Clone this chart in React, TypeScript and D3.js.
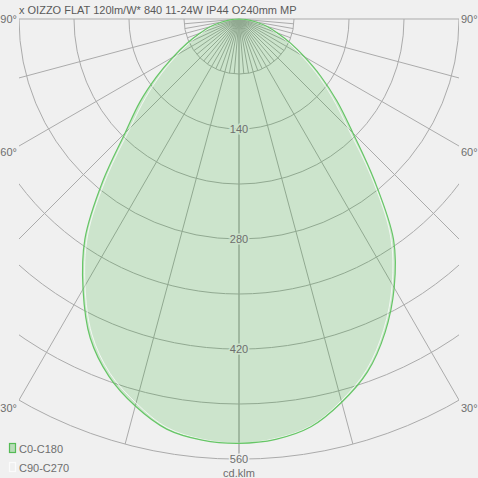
import React from "react";
import * as d3 from "d3";

const TITLE = "x OIZZO FLAT 120lm/W* 840 11-24W IP44 O240mm MP";
const UNIT = "cd.klm";
const LEGEND = ["C0-C180", "C90-C270"];

// gamma angles (deg from nadir)
const ANGLES = [0, 5, 10, 15, 20, 25, 30, 35, 40, 45, 50, 55, 60, 65, 70, 75, 80, 85, 90];
// intensities (cd/klm)
const C0 = [540, 537, 527, 505, 478, 440, 395, 343, 268, 205, 163, 127, 96, 72, 52, 37, 22, 10, 0];
const C180 = [540, 538, 530, 510, 484, 448, 397, 342, 270, 205, 165, 128, 97, 73, 53, 38, 22, 10, 0];
const C90 = [540, 536, 526, 503, 475, 436, 390, 336, 262, 196, 155, 120, 90, 67, 48, 34, 20, 9, 0];
const C270 = [540, 537, 528, 506, 480, 443, 392, 336, 262, 196, 155, 120, 90, 67, 48, 34, 20, 9, 0];

const RING_VALUES = [70, 140, 210, 280, 350, 420, 490, 560];
const RING_LABELS = [140, 280, 420, 560];
const MAJOR_SPOKES = [0, 15, 30, 45, 60, 75, 90];
const MINOR_SPOKES = [5, 10, 20, 25, 35, 40, 50, 55, 65, 70, 80, 85];
const SIDE_LABELS = [90, 60, 30];

const W = 478;
const H = 478;
const CX = 239;
const CY = 19;
const HALF = 220;
const BG = "#f0f0f0";
const GRID = "#ababab";
const TXT = "#6e6e6e";
const FONT = "Liberation Sans, Arial, sans-serif";

export default function App() {
  const r = d3.scaleLinear().domain([0, 560]).range([0, 440]);
  const rad = (d: number) => (d * Math.PI) / 180;

  const buildPts = (right: number[], left: number[]) => {
    const pts: [number, number][] = [];
    for (let i = ANGLES.length - 1; i >= 0; i--) pts.push([Math.PI - rad(ANGLES[i]), r(right[i])]);
    for (let i = 1; i < ANGLES.length; i++) pts.push([Math.PI + rad(ANGLES[i]), r(left[i])]);
    return pts;
  };
  const radial = d3
    .lineRadial<[number, number]>()
    .angle((d) => d[0])
    .radius((d) => d[1])
    .curve(d3.curveCatmullRom.alpha(0.5));

  const mainPath = radial(buildPts(C0, C180)) + "Z";
  const secPath = radial(buildPts(C90, C270)) + "Z";

  const arc = (rr: number) => {
    const a = d3.path();
    a.arc(0, 0, rr, 0, Math.PI, false);
    return a.toString();
  };

  const spoke = (g: number, len: number, side: number) => {
    const x = side * len * Math.sin(rad(g));
    const y = len * Math.cos(rad(g));
    return { x, y };
  };

  const sideLabelDy: Record<number, number> = { 90: 4, 60: 10, 30: 12 };
  const maxR = r(RING_VALUES[RING_VALUES.length - 1]);

  return (
    <svg
      width={W}
      height={H}
      style={{ position: "fixed", left: 0, top: 0, background: BG }}
      fontFamily={FONT}
    >
      <defs>
        <clipPath id="gridclip">
          <rect x={CX - HALF} y={CY - 1} width={HALF * 2} height={H} />
        </clipPath>
      </defs>
      <rect x={0} y={0} width={W} height={H} fill={BG} />
      <text x={19} y={14} fontSize={11} fill="#5a5a5a">
        {TITLE}
      </text>

      <g clipPath="url(#gridclip)">
        <g transform={`translate(${CX},${CY})`} stroke={GRID} strokeWidth={1} fill="none">
          {RING_VALUES.map((v) => (
            <path key={v} d={arc(r(v))} />
          ))}
          {MAJOR_SPOKES.flatMap((g) =>
            [-1, 1].map((s) => {
              const p = spoke(g, maxR, s);
              return <line key={`${g}${s}`} x1={0} y1={0} x2={p.x} y2={p.y} />;
            })
          )}
          {MINOR_SPOKES.flatMap((g) =>
            [-1, 1].map((s) => {
              const p = spoke(g, r(70), s);
              return <line key={`m${g}${s}`} x1={0} y1={0} x2={p.x} y2={p.y} />;
            })
          )}
        </g>
      </g>

      <g transform={`translate(${CX},${CY})`}>
        <path d={mainPath} fill="rgba(0,160,0,0.15)" stroke="none" />
        <path d={secPath} fill="none" stroke="#ffffff" strokeOpacity={0.75} strokeWidth={1} />
        <path d={mainPath} fill="none" stroke="#66c666" strokeWidth={1.2} />
        {RING_LABELS.map((v) => (
          <text
            key={v}
            x={0}
            y={r(v)}
            dy="0.35em"
            textAnchor="middle"
            fontSize={11}
            fill={TXT}
            stroke={v === 560 ? BG : "#cce4cc"}
            strokeWidth={3}
            paintOrder="stroke"
          >
            {v}
          </text>
        ))}
      </g>

      {SIDE_LABELS.map((g) => {
        const endY = g === 90 ? CY : CY + HALF / Math.tan(rad(g));
        const y = endY + sideLabelDy[g];
        return (
          <g key={g}>
            <text x={CX - HALF - 2} y={y} textAnchor="end" fontSize={11} fill={TXT}>
              {g}°
            </text>
            <text x={CX + HALF + 2} y={y} textAnchor="start" fontSize={11} fill={TXT}>
              {g}°
            </text>
          </g>
        );
      })}

      <text x={CX} y={477} textAnchor="middle" fontSize={11} fill={TXT}>
        {UNIT}
      </text>

      <rect x={9.5} y={443.5} width={6} height={9} fill="#b9dcb9" stroke="#55bb55" strokeWidth={1.2} />
      <text x={19} y={453} fontSize={11} fill={TXT}>
        {LEGEND[0]}
      </text>
      <rect x={9.5} y={462.5} width={6} height={9} fill="none" stroke="#fbfbfb" strokeWidth={1.2} />
      <text x={19} y={472} fontSize={11} fill={TXT}>
        {LEGEND[1]}
      </text>
    </svg>
  );
}
